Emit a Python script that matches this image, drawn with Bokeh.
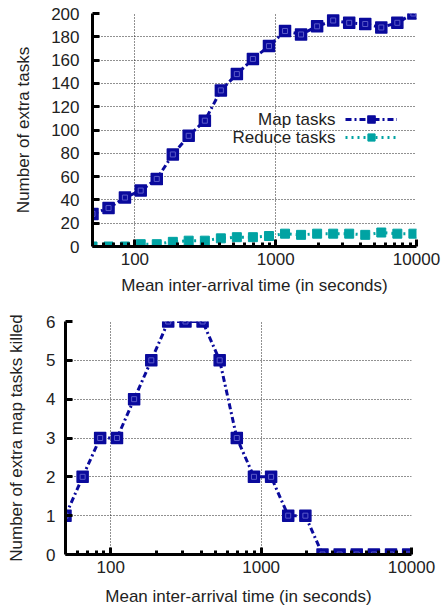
from bokeh.plotting import figure
from bokeh.models import (Range1d, FixedTicker, PrintfTickFormatter, Legend, LegendItem,
                          ColumnDataSource, Label)
from bokeh.embed import file_html
from bokeh.resources import INLINE

# ---- data ----
arrival = [50, 65, 85, 110, 143, 186, 241, 314, 408, 530, 689, 896,
           1165, 1514, 1969, 2560, 3327, 4325, 5623, 7310, 9503]
map_tasks = [28, 33, 42, 48, 58, 79, 95, 108, 134, 148, 161, 172,
             185, 182, 189, 194, 192, 191, 188, 192, 200]
reduce_tasks = [0, 0, 0, 2, 2, 4, 5, 5, 7, 8, 8, 9,
                11, 10, 11, 11, 11, 10, 12, 11, 11]
killed = [1, 2, 3, 3, 4, 5, 6, 6, 6, 5, 3, 2,
          2, 1, 1, 0, 0, 0, 0, 0, 0]
x_major = [100, 1000, 10000]
x_minor = [60, 70, 80, 90, 200, 300, 400, 500, 600, 700, 800, 900,
           2000, 3000, 4000, 5000, 6000, 7000, 8000, 9000]
y_ticks_top = [0, 20, 40, 60, 80, 100, 120, 140, 160, 180, 200]
y_ticks_bottom = [0, 1, 2, 3, 4, 5, 6]
x_label = "Mean inter-arrival time (in seconds)"
y_label_top = "Number of extra tasks"
y_label_bottom = "Number of extra map tasks killed"
series_labels = ["Map tasks", "Reduce tasks"]

FONT = "Liberation Sans"
TXT = "#222222"
NAVY = "#0a0a9c"
INNER = "#5a5ac8"
TEAL = "#00a3a3"

src = ColumnDataSource(dict(x=arrival, m=map_tasks, r=reduce_tasks, k=killed))


def style(p, yticks, ylab_standoff, ytick_standoff, xlab_standoff):
    p.outline_line_color = None
    p.background_fill_color = "white"
    p.border_fill_color = "white"
    for ax in (p.xaxis[0], p.yaxis[0]):
        ax.axis_line_width = 3
        ax.axis_line_color = "black"
        ax.major_tick_line_width = 3
        ax.major_tick_line_color = "black"
        ax.major_tick_in = 7
        ax.major_tick_out = 0
        ax.minor_tick_line_width = 3
        ax.minor_tick_line_color = "black"
        ax.minor_tick_in = 4
        ax.minor_tick_out = 0
        ax.major_label_text_font = FONT
        ax.major_label_text_font_size = "17px"
        ax.major_label_text_color = TXT
        ax.axis_label_text_font = FONT
        ax.axis_label_text_font_size = "17px"
        ax.axis_label_text_font_style = "normal"
        ax.axis_label_text_color = TXT
    p.xaxis[0].ticker = FixedTicker(ticks=x_major, minor_ticks=x_minor)
    p.xaxis[0].formatter = PrintfTickFormatter(format="%d")
    p.xaxis[0].major_label_standoff = 6
    p.xaxis[0].axis_label_standoff = xlab_standoff
    p.yaxis[0].ticker = FixedTicker(ticks=yticks)
    p.yaxis[0].major_label_standoff = ytick_standoff
    p.yaxis[0].axis_label_standoff = ylab_standoff
    for g in (p.xgrid[0], p.ygrid[0]):
        g.grid_line_color = "#222222"
        g.grid_line_width = 1
        g.grid_line_dash = "1 2"
    p.xgrid[0].ticker = FixedTicker(ticks=x_major)
    p.ygrid[0].ticker = FixedTicker(ticks=yticks)


def map_marks(p, col):
    ln = p.line("x", col, source=src, line_color=NAVY, line_width=3, line_dash="6 3 2 3")
    sq = p.scatter("x", col, source=src, marker="square", size=11,
                   fill_color=NAVY, line_color=NAVY, line_width=1.5, line_join="round")
    p.scatter("x", col, source=src, marker="square", size=5,
              fill_color=None, line_color=INNER, line_width=1)
    return ln, sq


# ---- top chart ----
p1 = figure(width=441, height=300, x_axis_type="log",
            x_range=Range1d(50, 10000), y_range=Range1d(0, 200),
            output_backend="svg", toolbar_location=None,
            min_border_left=92, min_border_right=25,
            min_border_top=13, min_border_bottom=54,
            x_axis_label=x_label, y_axis_label=y_label_top)
style(p1, y_ticks_top, ylab_standoff=15, ytick_standoff=13, xlab_standoff=8)

r_line = p1.line("x", "r", source=src, line_color=TEAL, line_width=3, line_dash="2 4")
r_pts = p1.scatter("x", "r", source=src, marker="square", size=9,
                   fill_color=TEAL, line_color=TEAL)
m_line, m_pts = map_marks(p1, "m")

legend = Legend(items=[LegendItem(label=" ", renderers=[m_line, m_pts]),
                       LegendItem(label=" ", renderers=[r_line, r_pts])],
                location=(253, 100), glyph_width=52, glyph_height=18,
                label_standoff=0, label_width=0, label_height=0,
                label_text_font=FONT, label_text_font_size="1px",
                padding=0, margin=0, spacing=0,
                border_line_color=None, background_fill_alpha=0)
p1.add_layout(legend)
for i, txt in enumerate(series_labels):
    p1.add_layout(Label(x=243, y=127 - 18 * i, x_units="screen", y_units="screen",
                        text=txt, text_align="right", text_baseline="middle",
                        text_font=FONT, text_font_size="17px", text_color=TXT))

# ---- bottom chart ----
p2 = figure(width=441, height=308, x_axis_type="log",
            x_range=Range1d(50, 10000), y_range=Range1d(0, 6),
            output_backend="svg", toolbar_location=None,
            min_border_left=65, min_border_right=30,
            min_border_top=21, min_border_bottom=54,
            x_axis_label=x_label, y_axis_label=y_label_bottom)
style(p2, y_ticks_bottom, ylab_standoff=17, ytick_standoff=10, xlab_standoff=11)
map_marks(p2, "k")

open("out.html", "w").write(file_html([p1, p2], INLINE))
